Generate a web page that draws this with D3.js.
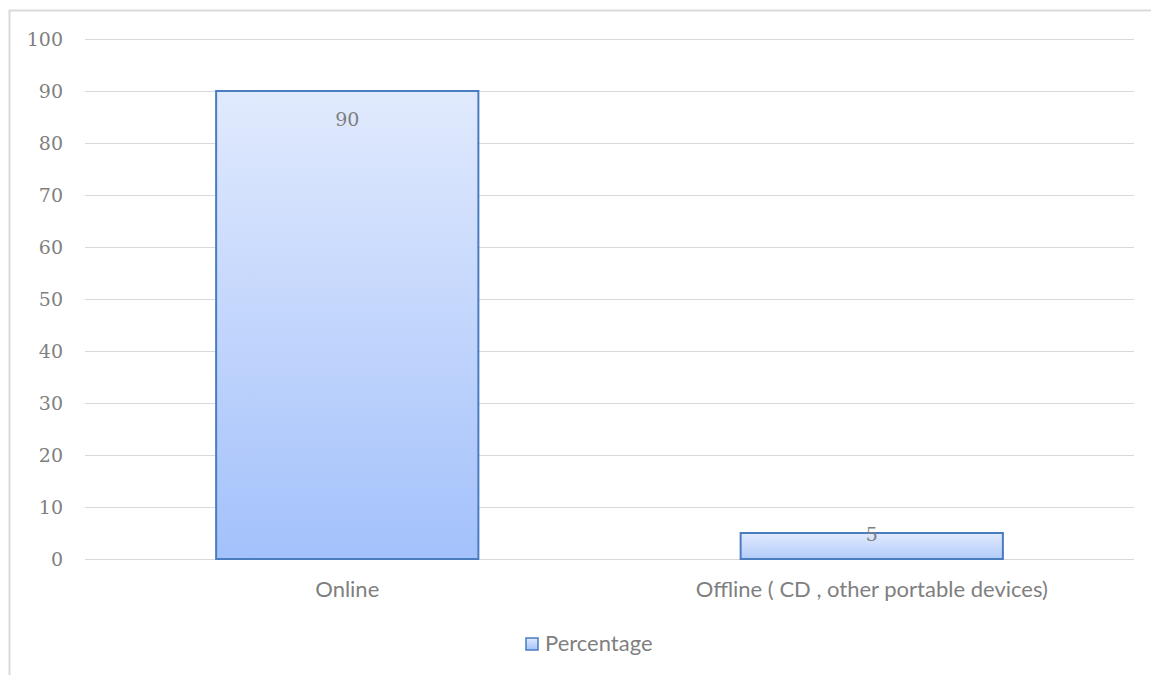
<!DOCTYPE html>
<html><head><meta charset="utf-8">
<script src="https://cdn.jsdelivr.net/npm/d3@7"></script>
<style>html,body{margin:0;padding:0;background:#fff;}svg{display:block;}</style>
</head><body>
<svg id="c" width="1151" height="675"></svg>
<script>
const categories = ["Online", "Offline ( CD , other portable devices)"];
const values = [90, 5];
const seriesName = "Percentage";
const yTicks = [0,10,20,30,40,50,60,70,80,90,100];

const svg = d3.select("#c");
const W = 1151, H = 675;
const m = {left: 85, right: 17, top: 39, bottom: 115};

// outer frame
svg.append("path").attr("d", `M9.5,${H} L9.5,10.5 L${W},10.5`).attr("fill","none").attr("stroke","#d9d9d9").attr("stroke-width",2);

const defs = svg.append("defs");
const g1 = defs.append("linearGradient").attr("id","bg").attr("x1",0).attr("y1",0).attr("x2",0).attr("y2",1);
g1.append("stop").attr("offset","0%").attr("stop-color","#e1eafd");
g1.append("stop").attr("offset","100%").attr("stop-color","#a3c1fb");

const x = d3.scaleBand().domain(categories).range([m.left, W - m.right]).paddingInner(0.5).paddingOuter(0.25);
const y = d3.scaleLinear().domain([0,100]).range([H - m.bottom - 1, m.top]);

// gridlines
svg.append("g").selectAll("line").data(yTicks).join("line")
  .attr("x1", m.left).attr("x2", W - m.right)
  .attr("y1", d => Math.round(y(d)) + 0.5).attr("y2", d => Math.round(y(d)) + 0.5)
  .attr("stroke","#d9d9d9").attr("stroke-width",1.2);

// y axis labels
const ya = svg.append("g").attr("transform", `translate(63,0)`)
  .call(d3.axisLeft(y).tickValues(yTicks).tickSize(0).tickPadding(0));
ya.select(".domain").remove();
ya.selectAll("text").attr("font-family","'DejaVu Serif', 'Liberation Serif', serif").attr("font-size","19px").attr("fill","#7f7f7f");

// bars
const gradOf = (d) => {
  const id = "bg" + categories.indexOf(d.c);
  const gr = defs.append("linearGradient").attr("id", id).attr("gradientUnits","userSpaceOnUse")
    .attr("x1",0).attr("x2",0).attr("y1", y(d.v)).attr("y2", y(0));
  gr.append("stop").attr("offset","0%").attr("stop-color","#e1eafd");
  gr.append("stop").attr("offset","100%").attr("stop-color", d.v > 50 ? "#a3c1fb" : "#b3ccfb");
  return `url(#${id})`;
};
const data = categories.map((c,i) => ({c, v: values[i]}));
svg.append("g").selectAll("rect").data(data).join("rect")
  .attr("x", d => x(d.c)).attr("width", x.bandwidth())
  .attr("y", d => y(d.v)).attr("height", d => y(0) - y(d.v))
  .attr("fill", d => gradOf(d)).attr("stroke","#4a7cc0").attr("stroke-width",2);

// value labels
svg.append("g").selectAll("text").data(data).join("text")
  .attr("x", d => x(d.c) + x.bandwidth()/2)
  .attr("y", d => (y(0) - y(d.v) > 60) ? y(d.v) + 35 : y(d.v) + 8)
  .attr("text-anchor","middle")
  .attr("font-family","'DejaVu Serif', 'Liberation Serif', serif").attr("font-size","19px").attr("fill","#7f7f7f")
  .text(d => d.v);

// x axis labels
const xa = svg.append("g").attr("transform", `translate(0,${y(0)})`)
  .call(d3.axisBottom(x).tickSize(0).tickPadding(22));
xa.select(".domain").remove();
xa.selectAll("text").attr("font-family","Lato, 'Open Sans', sans-serif").attr("font-size","22px").attr("fill","#7f7f7f");

// legend
const lg = svg.append("g");
lg.append("rect").attr("x",526).attr("y",638).attr("width",12).attr("height",12)
  .attr("fill","url(#bg)").attr("stroke","#4a7cc0").attr("stroke-width",1.5);
lg.append("text").attr("x",545).attr("y",651).attr("font-family","Lato, 'Open Sans', sans-serif").attr("font-size","22px").attr("fill","#7f7f7f").text(seriesName);
</script>
</body></html>
